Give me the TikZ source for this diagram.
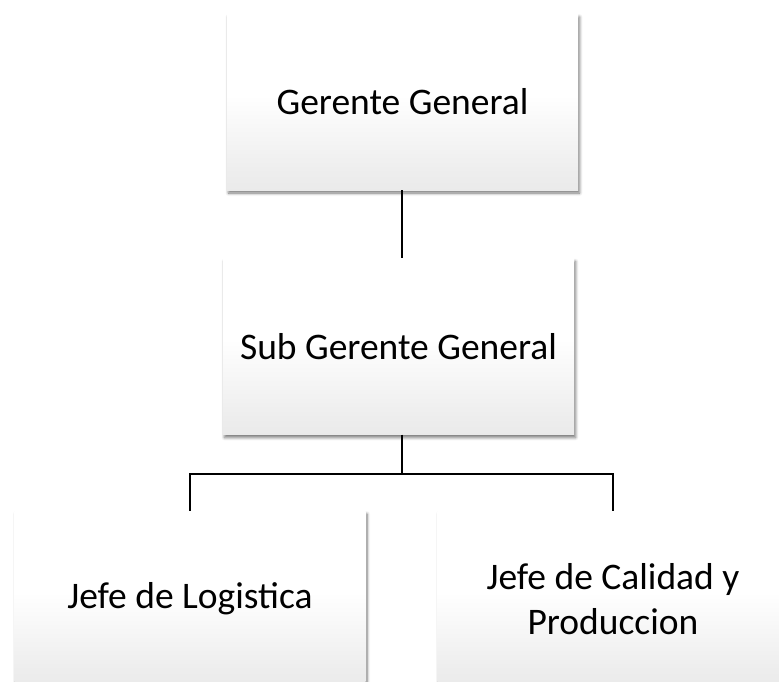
\documentclass[tikz,border=0pt]{standalone}
\usepackage{fontspec}
\setmainfont{Carlito}
\usetikzlibrary{shadows.blur}
\pgfdeclareverticalshading{boxshade}{100bp}{color(0bp)=(black!14); color(30bp)=(black!7); color(52bp)=(white); color(100bp)=(white)}
\begin{document}
\begin{tikzpicture}[x=1pt,y=-1pt,
  orgbox/.style={rectangle, minimum width=351pt, minimum height=176pt, inner sep=0pt,
    shading=boxshade, align=center, font=\fontsize{37.5}{45}\selectfont,
    blur shadow={shadow xshift=1.5pt, shadow yshift=-3pt, shadow blur steps=6, shadow opacity=55, shadow blur radius=3pt}},
  link/.style={draw=black, line width=2pt}]
\useasboundingbox (0,0) rectangle (779,681);
\begin{scope}
\clip (0,0) rectangle (779,681);
\node[orgbox] (gg) at (402.5,102) {Gerente General};
\node[orgbox] (sg) at (398.5,346.5) {Sub Gerente General};
\node[orgbox] (jl) at (190,599) {Jefe de Logistica};
\node[orgbox] (jc) at (613,599) {Jefe de Calidad y\\Produccion};
\coordinate (bus) at (402,474);
\draw[link] (gg.south -| bus) -- (sg.north -| bus);
\draw[link] (sg.south -| bus) -- (bus);
\draw[link] (jl.north) |- (bus) -| (jc.north);
\end{scope}
\end{tikzpicture}
\end{document}
